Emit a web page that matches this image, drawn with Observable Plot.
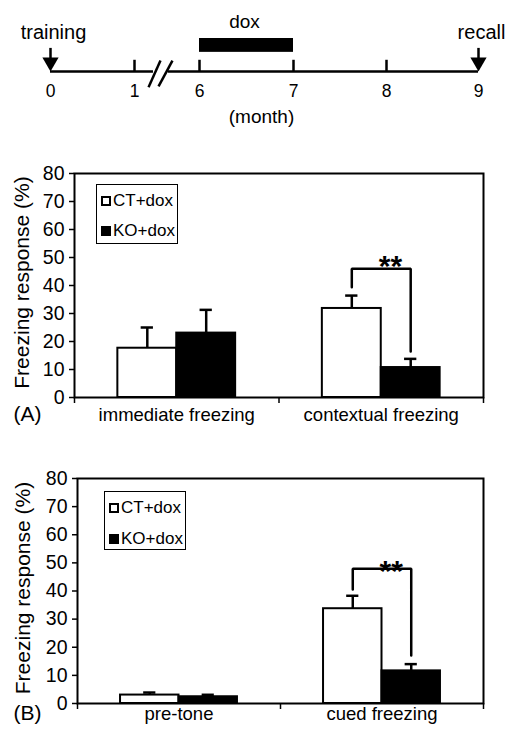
<!DOCTYPE html>
<html>
<head>
<meta charset="utf-8">
<script src="https://cdn.jsdelivr.net/npm/d3@7"></script>
<script src="https://cdn.jsdelivr.net/npm/@observablehq/plot@0.6"></script>
<style>
  html, body { margin: 0; padding: 0; background: #fff; }
  #root { position: relative; width: 510px; height: 729px; overflow: hidden; background: #fff;
          font-family: "Liberation Sans", Arial, sans-serif; color: #000; }
  .panel { position: absolute; left: 0; }
  .legend { position: absolute; border: 1.5px solid #000; background: #fff; box-sizing: border-box; }
  .legend .item { position: absolute; left: 4px; display: flex; align-items: center; font-size: 17px; line-height: 1; white-space: nowrap; }
  .legend .sw { display: inline-block; width: 10px; height: 10px; box-sizing: border-box; border: 2px solid #000; margin-right: 2px; }
</style>
</head>
<body>
<div id="root"></div>
<script>
// ---------- data ----------
const months = [0, 1, 6, 7, 8, 9];
const monthLabels = ["0", "1", "6", "7", "8", "9"];
const eventMonths = [0, 9];
const eventLabels = ["training", "recall"];
const doxPeriod = [6, 7];
const doxLabel = "dox";
const monthTitle = "(month)";

const groups = ["CT+dox", "KO+dox"];
const yTicks = [0, 10, 20, 30, 40, 50, 60, 70, 80];
const yTitle = "Freezing response (%)";

const catsA = ["immediate freezing", "contextual freezing"];
const ctA = [17.6, 31.8];
const ctErrA = [7.4, 4.6];
const koA = [23.0, 10.7];
const koErrA = [8.3, 3.1];
const sigA = "**";
const bracketA = [39.4, 46.0, 16.4]; // left end, top, right end (%)
const starA = 49.6;

const catsB = ["pre-tone", "cued freezing"];
const ctB = [3.0, 33.7];
const ctErrB = [0.9, 4.6];
const koB = [2.4, 11.6];
const koErrB = [0.7, 2.4];
const sigB = "**";
const bracketB = [40.5, 47.9, 17.1];
const starB = 49.9;

// ---------- helpers ----------
const FONT = '"Liberation Sans", Arial, sans-serif';
const root = document.getElementById("root");

function addPanel(top, node) {
  const d = document.createElement("div");
  d.className = "panel";
  d.style.top = top + "px";
  d.appendChild(node);
  root.appendChild(d);
  return d;
}

// down-pointing triangle with tip at the anchor point
const triangleDown = {
  draw(ctx, size) {
    const r = Math.sqrt(size / Math.PI);
    const hw = r * 1.35, h = r * 2.35;
    ctx.moveTo(0, 0);
    ctx.lineTo(-hw, -h);
    ctx.lineTo(hw, -h);
    ctx.closePath();
  }
};

// ---------- timeline ----------
{
  // month -> screen mapping is piecewise because of the axis break between 1 and 6
  const xs = {type: "linear", domain: months, range: [50, 134, 199, 293, 386, 478], axis: null};
  const tickMonths = months.filter(m => !eventMonths.includes(m));
  const segs = [{x1: months[0], x2: 2.46}, {x1: 3.6, x2: months[months.length - 1]}];
  const slashes = [
    {x1: 2.08, y1: -0.48, x2: 3.0, y2: 0.33},
    {x1: 2.85, y1: -0.45, x2: 3.92, y2: 0.33}
  ];
  const tl = Plot.plot({
    width: 510, height: 130,
    marginLeft: 0, marginRight: 0, marginTop: 0, marginBottom: 0,
    x: xs,
    y: {type: "linear", domain: [0, 1], range: [71, 38], axis: null},
    style: {fontFamily: FONT, fontSize: "17px", color: "#000", background: "#fff", overflow: "visible"},
    marks: [
      Plot.ruleY(segs, {y: 0, x1: "x1", x2: "x2", stroke: "#000", strokeWidth: 2.5}),
      Plot.link(slashes, {x1: "x1", y1: "y1", x2: "x2", y2: "y2", stroke: "#000", strokeWidth: 2.5}),
      Plot.ruleX(tickMonths, {x: d => d, y1: 0, y2: 0.34, stroke: "#000", strokeWidth: 2.5}),
      Plot.text(months, {x: d => d, y: 0, dy: 19.5, text: (d, i) => monthLabels[i], fontSize: 17.5}),
      Plot.text([monthTitle], {x: (doxPeriod[0] + doxPeriod[1]) / 2, y: 0, dx: 15, dy: 45, fontSize: 19}),
      Plot.rect([doxPeriod], {x1: d => d[0], x2: d => d[1], y1: 0.58, y2: 1, fill: "#000"}),
      Plot.text([doxLabel], {x: (doxPeriod[0] + doxPeriod[1]) / 2, y: 1, dx: -2, dy: -11, lineAnchor: "bottom", fontSize: 19}),
      Plot.ruleX(eventMonths, {x: d => d, y1: 0.3, y2: 0.7, stroke: "#000", strokeWidth: 2.5}),
      Plot.dot(eventMonths, {x: d => d, y: 0, r: 6, symbol: triangleDown, fill: "#000", stroke: "none"}),
      Plot.text(eventMonths, {x: d => d, y: 0.97, dx: 3, text: (d, i) => eventLabels[i], lineAnchor: "bottom", fontSize: 20})
    ]
  });
  addPanel(0, tl);
}

// ---------- bar panels ----------
function barPanel({top, height, mTop, mBottom, mLeft, cats, ct, ctErr, ko, koErr, sig, bracket, star, tag, catDy, titleDx, legendBox}) {
  const bw = 0.288;          // bar width in band units
  const cap = 0.03;          // half cap width in band units
  const rows = [];
  cats.forEach((c, i) => {
    rows.push({i, cat: c, group: groups[0], value: ct[i], err: ctErr[i], x1: i + 0.5 - bw, x2: i + 0.5});
    rows.push({i, cat: c, group: groups[1], value: ko[i], err: koErr[i], x1: i + 0.5, x2: i + 0.5 + bw});
  });
  rows.forEach(r => { r.xc = (r.x1 + r.x2) / 2; r.top = r.value + r.err; });
  const ctC = rows[2].xc, koC = rows[3].xc;
  const bracketPts = [[ctC, bracket[0]], [ctC, bracket[1]], [koC, bracket[1]], [koC, bracket[2]]];

  const p = Plot.plot({
    width: 510, height,
    marginLeft: mLeft, marginRight: 27, marginTop: mTop, marginBottom: mBottom,
    x: {type: "linear", domain: [0, cats.length]},
    y: {type: "linear", domain: [0, 80]},
    style: {fontFamily: FONT, fontSize: "18px", color: "#000", background: "transparent", overflow: "visible"},
    marks: [
      Plot.rectY(rows, {x1: "x1", x2: "x2", y1: 0, y2: "value",
        fill: d => d.group === groups[0] ? "#fff" : "#000", stroke: "#000", strokeWidth: 2}),
      Plot.ruleX(rows, {x: "xc", y1: "value", y2: "top", stroke: "#000", strokeWidth: 2.5}),
      Plot.ruleY(rows, {y: "top", x1: d => d.xc - cap, x2: d => d.xc + cap, stroke: "#000", strokeWidth: 2.5}),
      Plot.line(bracketPts, {x: d => d[0], y: d => d[1], stroke: "#000", strokeWidth: 2.5, strokeLinejoin: "miter"}),
      Plot.text([sig], {x: (ctC + koC) / 2 + 0.045, y: star, dy: 8, fontSize: 30, fontWeight: "bold"}),
      Plot.frame({stroke: "#000", strokeWidth: 2}),
      Plot.axisY({ticks: yTicks, tickSize: 5, tickPadding: 5, label: null, fontSize: 19.5, strokeWidth: 1.5}),
      Plot.axisX({ticks: d3.range(cats.length + 1), tickSize: 6, tickFormat: () => "", label: null, strokeWidth: 1.5}),
      Plot.text(cats, {x: (d, i) => i + 0.5, frameAnchor: "bottom", dy: catDy, fontSize: 18.5}),
      Plot.text([tag], {frameAnchor: "bottom-left", textAnchor: "start", dx: 13 - mLeft, dy: catDy, fontSize: 21}),
      Plot.text([yTitle], {frameAnchor: "left", textAnchor: "middle", rotate: -90, dx: titleDx, dy: -3, fontSize: 21})
    ]
  });
  const holder = addPanel(top, p);
  // legend box inside the plot area
  const lg = document.createElement("div");
  lg.className = "legend";
  lg.style.left = legendBox.left + "px";
  lg.style.top = legendBox.top + "px";
  lg.style.width = legendBox.width + "px";
  lg.style.height = legendBox.height + "px";
  groups.forEach((g, k) => {
    const it = document.createElement("div");
    it.className = "item";
    it.style.top = legendBox.rows[k] + "px";
    const sw = document.createElement("span");
    sw.className = "sw";
    sw.style.background = k === 0 ? "#fff" : "#000";
    it.appendChild(sw);
    it.appendChild(document.createTextNode(g));
    lg.appendChild(it);
  });
  holder.appendChild(lg);
}

barPanel({top: 150, height: 290, mTop: 23, mBottom: 43, mLeft: 74,
  cats: catsA, ct: ctA, ctErr: ctErrA, ko: koA, koErr: koErrA, sig: sigA, bracket: bracketA, star: starA,
  tag: "(A)", catDy: 23, titleDx: -52,
  legendBox: {left: 96, top: 34, width: 82, height: 60, rows: [7, 37]}});

barPanel({top: 450, height: 279, mTop: 28, mBottom: 26, mLeft: 77,
  cats: catsB, ct: ctB, ctErr: ctErrB, ko: koB, koErr: koErrB, sig: sigB, bracket: bracketB, star: starB,
  tag: "(B)", catDy: 16, titleDx: -54,
  legendBox: {left: 104, top: 41, width: 82, height: 59, rows: [7, 38]}});
</script>
</body>
</html>
